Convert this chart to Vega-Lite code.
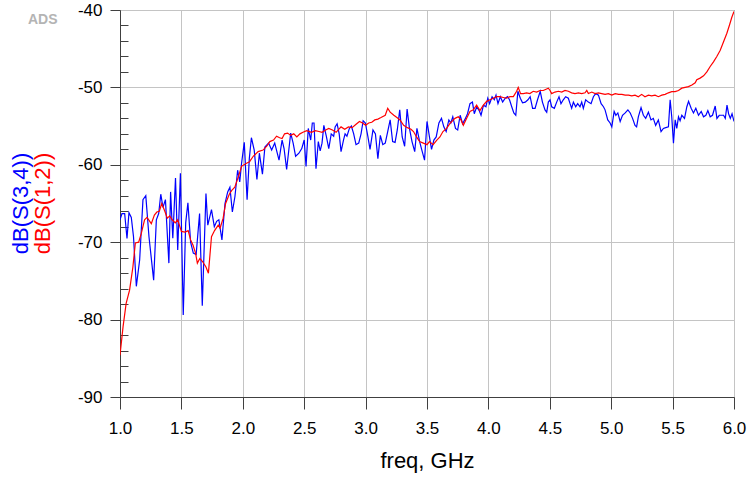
{
  "$schema": "https://vega.github.io/schema/vega-lite/v6.json",
  "autosize": "none",
  "width": 614,
  "height": 387,
  "padding": {"left": 120, "top": 10, "right": 15, "bottom": 85},
  "background": "white",
  "config": {
    "font": "Liberation Sans",
    "view": {"stroke": "#404040", "strokeWidth": 1}
  },
  "title": {
    "text": "ADS",
    "anchor": "start",
    "frame": "group",
    "orient": "top",
    "offset": 0,
    "dx": -92,
    "dy": 26,
    "fontSize": 14,
    "fontWeight": "bold",
    "color": "#b4b4b4",
    "font": "Liberation Sans"
  },
  "datasets": {
    "s34": [
      {"f":1.000,"v":-67.1},{"f":1.016,"v":-66.3},{"f":1.038,"v":-66.3},{"f":1.057,"v":-69.5},{"f":1.073,"v":-66.2},
      {"f":1.092,"v":-66.8},{"f":1.110,"v":-69.3},{"f":1.133,"v":-75.7},{"f":1.160,"v":-72.3},{"f":1.187,"v":-64.5},
      {"f":1.210,"v":-64.0},{"f":1.236,"v":-69.3},{"f":1.274,"v":-74.9},{"f":1.296,"v":-67.1},{"f":1.315,"v":-66.3},
      {"f":1.332,"v":-63.8},{"f":1.350,"v":-65.5},{"f":1.370,"v":-64.5},{"f":1.398,"v":-72.7},{"f":1.412,"v":-63.5},
      {"f":1.430,"v":-69.5},{"f":1.452,"v":-61.7},{"f":1.470,"v":-71.0},{"f":1.492,"v":-61.1},{"f":1.515,"v":-79.4},
      {"f":1.535,"v":-67.5},{"f":1.553,"v":-64.9},{"f":1.575,"v":-70.0},{"f":1.597,"v":-71.4},{"f":1.620,"v":-71.6},
      {"f":1.648,"v":-66.3},{"f":1.670,"v":-78.2},{"f":1.700,"v":-63.7},{"f":1.715,"v":-67.8},{"f":1.745,"v":-65.8},
      {"f":1.768,"v":-68.0},{"f":1.787,"v":-67.3},{"f":1.805,"v":-67.1},{"f":1.830,"v":-69.7},{"f":1.855,"v":-65.0},
      {"f":1.877,"v":-63.5},{"f":1.895,"v":-62.9},{"f":1.915,"v":-66.1},{"f":1.936,"v":-64.1},{"f":1.958,"v":-60.7},
      {"f":1.975,"v":-62.2},{"f":1.990,"v":-59.8},{"f":2.012,"v":-57.1},{"f":2.035,"v":-64.5},{"f":2.053,"v":-59.2},
      {"f":2.070,"v":-56.5},{"f":2.093,"v":-58.1},{"f":2.115,"v":-61.9},{"f":2.135,"v":-58.5},{"f":2.160,"v":-61.2},
      {"f":2.180,"v":-57.7},{"f":2.210,"v":-57.2},{"f":2.235,"v":-58.1},{"f":2.260,"v":-57.2},{"f":2.295,"v":-59.4},
      {"f":2.320,"v":-56.8},{"f":2.336,"v":-57.9},{"f":2.357,"v":-60.6},{"f":2.376,"v":-57.9},{"f":2.390,"v":-55.9},
      {"f":2.410,"v":-57.2},{"f":2.430,"v":-58.9},{"f":2.457,"v":-58.5},{"f":2.480,"v":-57.9},{"f":2.500,"v":-56.8},
      {"f":2.515,"v":-60.2},{"f":2.533,"v":-55.3},{"f":2.553,"v":-56.8},{"f":2.566,"v":-54.6},{"f":2.580,"v":-54.6},
      {"f":2.596,"v":-60.5},{"f":2.615,"v":-57.0},{"f":2.630,"v":-58.2},{"f":2.645,"v":-57.2},{"f":2.660,"v":-54.9},
      {"f":2.680,"v":-56.3},{"f":2.700,"v":-57.9},{"f":2.720,"v":-56.0},{"f":2.740,"v":-56.3},{"f":2.752,"v":-55.1},
      {"f":2.768,"v":-54.7},{"f":2.785,"v":-56.0},{"f":2.800,"v":-58.3},{"f":2.820,"v":-56.8},{"f":2.833,"v":-56.0},
      {"f":2.848,"v":-56.3},{"f":2.868,"v":-55.3},{"f":2.884,"v":-55.0},{"f":2.903,"v":-56.0},{"f":2.922,"v":-57.4},
      {"f":2.944,"v":-57.2},{"f":2.963,"v":-56.0},{"f":2.980,"v":-54.3},{"f":2.998,"v":-54.6},{"f":3.018,"v":-56.3},
      {"f":3.036,"v":-58.0},{"f":3.060,"v":-55.5},{"f":3.080,"v":-56.0},{"f":3.100,"v":-59.2},{"f":3.120,"v":-56.2},
      {"f":3.140,"v":-57.4},{"f":3.160,"v":-57.2},{"f":3.180,"v":-55.7},{"f":3.200,"v":-54.2},{"f":3.220,"v":-57.0},
      {"f":3.240,"v":-57.1},{"f":3.258,"v":-55.5},{"f":3.278,"v":-52.9},{"f":3.298,"v":-56.4},{"f":3.318,"v":-57.6},
      {"f":3.338,"v":-52.8},{"f":3.357,"v":-55.3},{"f":3.378,"v":-57.0},{"f":3.400,"v":-58.3},{"f":3.418,"v":-55.3},
      {"f":3.440,"v":-57.0},{"f":3.458,"v":-58.1},{"f":3.480,"v":-59.4},{"f":3.500,"v":-54.4},{"f":3.520,"v":-56.4},
      {"f":3.537,"v":-58.0},{"f":3.556,"v":-56.8},{"f":3.575,"v":-56.4},{"f":3.597,"v":-54.6},{"f":3.618,"v":-54.0},
      {"f":3.637,"v":-55.1},{"f":3.656,"v":-55.7},{"f":3.678,"v":-54.2},{"f":3.694,"v":-54.6},{"f":3.710,"v":-53.8},
      {"f":3.732,"v":-55.3},{"f":3.750,"v":-55.5},{"f":3.770,"v":-53.6},{"f":3.790,"v":-54.7},{"f":3.810,"v":-54.1},
      {"f":3.830,"v":-53.4},{"f":3.850,"v":-52.1},{"f":3.870,"v":-51.9},{"f":3.885,"v":-53.4},{"f":3.905,"v":-52.5},
      {"f":3.925,"v":-53.0},{"f":3.940,"v":-53.6},{"f":3.960,"v":-52.3},{"f":3.980,"v":-52.5},{"f":3.995,"v":-51.4},
      {"f":4.010,"v":-52.1},{"f":4.030,"v":-51.2},{"f":4.048,"v":-51.6},{"f":4.062,"v":-51.0},{"f":4.078,"v":-52.1},
      {"f":4.097,"v":-51.2},{"f":4.116,"v":-51.9},{"f":4.137,"v":-51.4},{"f":4.156,"v":-51.2},{"f":4.172,"v":-51.6},
      {"f":4.190,"v":-52.5},{"f":4.207,"v":-53.3},{"f":4.223,"v":-53.6},{"f":4.240,"v":-50.5},{"f":4.260,"v":-51.4},
      {"f":4.278,"v":-52.0},{"f":4.300,"v":-51.9},{"f":4.322,"v":-51.6},{"f":4.340,"v":-51.2},{"f":4.360,"v":-52.7},
      {"f":4.380,"v":-52.7},{"f":4.400,"v":-51.6},{"f":4.422,"v":-50.5},{"f":4.440,"v":-51.9},{"f":4.461,"v":-52.9},
      {"f":4.475,"v":-53.2},{"f":4.488,"v":-51.9},{"f":4.502,"v":-51.6},{"f":4.515,"v":-52.5},{"f":4.537,"v":-52.7},
      {"f":4.556,"v":-51.9},{"f":4.575,"v":-51.2},{"f":4.591,"v":-52.1},{"f":4.610,"v":-51.6},{"f":4.629,"v":-51.2},
      {"f":4.651,"v":-51.4},{"f":4.665,"v":-52.1},{"f":4.678,"v":-52.7},{"f":4.692,"v":-51.9},{"f":4.711,"v":-52.5},
      {"f":4.727,"v":-52.1},{"f":4.746,"v":-52.5},{"f":4.760,"v":-51.9},{"f":4.773,"v":-52.7},{"f":4.792,"v":-51.6},
      {"f":4.814,"v":-51.9},{"f":4.836,"v":-52.1},{"f":4.855,"v":-51.2},{"f":4.874,"v":-50.8},{"f":4.896,"v":-51.0},
      {"f":4.918,"v":-52.1},{"f":4.937,"v":-52.5},{"f":4.950,"v":-52.9},{"f":4.972,"v":-54.2},{"f":4.991,"v":-54.6},
      {"f":5.005,"v":-55.1},{"f":5.024,"v":-53.1},{"f":5.038,"v":-53.6},{"f":5.054,"v":-53.3},{"f":5.073,"v":-54.4},
      {"f":5.092,"v":-53.6},{"f":5.114,"v":-53.3},{"f":5.136,"v":-52.9},{"f":5.155,"v":-53.3},{"f":5.174,"v":-54.0},
      {"f":5.194,"v":-54.9},{"f":5.207,"v":-55.1},{"f":5.221,"v":-53.8},{"f":5.243,"v":-52.6},{"f":5.262,"v":-53.6},
      {"f":5.281,"v":-54.0},{"f":5.303,"v":-53.2},{"f":5.324,"v":-54.2},{"f":5.343,"v":-54.0},{"f":5.362,"v":-54.9},
      {"f":5.384,"v":-54.2},{"f":5.406,"v":-55.7},{"f":5.425,"v":-55.3},{"f":5.444,"v":-55.2},{"f":5.466,"v":-55.1},
      {"f":5.480,"v":-51.6},{"f":5.493,"v":-53.8},{"f":5.507,"v":-57.2},{"f":5.521,"v":-54.2},{"f":5.534,"v":-55.3},
      {"f":5.548,"v":-53.8},{"f":5.561,"v":-54.3},{"f":5.575,"v":-53.6},{"f":5.597,"v":-54.0},{"f":5.616,"v":-52.5},
      {"f":5.630,"v":-51.8},{"f":5.651,"v":-52.7},{"f":5.670,"v":-53.3},{"f":5.689,"v":-52.7},{"f":5.711,"v":-53.6},
      {"f":5.733,"v":-53.1},{"f":5.752,"v":-53.8},{"f":5.771,"v":-53.6},{"f":5.787,"v":-53.0},{"f":5.806,"v":-53.8},
      {"f":5.825,"v":-53.6},{"f":5.847,"v":-52.4},{"f":5.861,"v":-54.0},{"f":5.880,"v":-53.6},{"f":5.896,"v":-53.6},
      {"f":5.915,"v":-53.6},{"f":5.929,"v":-54.0},{"f":5.943,"v":-52.3},{"f":5.956,"v":-53.4},{"f":5.970,"v":-54.0},
      {"f":5.984,"v":-53.4},{"f":6.000,"v":-54.4}
    ],
    "s12": [
      {"f":1.000,"v":-84.6},{"f":1.025,"v":-80.9},{"f":1.050,"v":-77.9},{"f":1.078,"v":-76.2},{"f":1.105,"v":-73.2},
      {"f":1.125,"v":-70.1},{"f":1.152,"v":-70.0},{"f":1.173,"v":-68.9},{"f":1.200,"v":-67.1},{"f":1.220,"v":-66.8},
      {"f":1.255,"v":-67.6},{"f":1.280,"v":-66.5},{"f":1.300,"v":-66.1},{"f":1.320,"v":-66.0},{"f":1.340,"v":-65.0},
      {"f":1.365,"v":-66.0},{"f":1.385,"v":-66.9},{"f":1.405,"v":-66.6},{"f":1.425,"v":-67.1},{"f":1.450,"v":-67.5},
      {"f":1.470,"v":-67.1},{"f":1.500,"v":-68.6},{"f":1.530,"v":-68.7},{"f":1.555,"v":-68.5},{"f":1.575,"v":-69.7},
      {"f":1.595,"v":-70.4},{"f":1.615,"v":-71.4},{"f":1.630,"v":-72.7},{"f":1.650,"v":-72.1},{"f":1.672,"v":-72.5},
      {"f":1.700,"v":-73.2},{"f":1.720,"v":-74.0},{"f":1.745,"v":-69.3},{"f":1.770,"v":-68.5},{"f":1.800,"v":-67.8},
      {"f":1.815,"v":-68.2},{"f":1.840,"v":-66.9},{"f":1.860,"v":-65.0},{"f":1.890,"v":-63.8},{"f":1.910,"v":-63.3},
      {"f":1.935,"v":-62.9},{"f":1.965,"v":-61.5},{"f":1.990,"v":-60.2},{"f":2.030,"v":-59.8},{"f":2.055,"v":-59.6},
      {"f":2.085,"v":-58.9},{"f":2.125,"v":-58.3},{"f":2.165,"v":-58.1},{"f":2.195,"v":-57.6},{"f":2.220,"v":-57.0},
      {"f":2.250,"v":-56.8},{"f":2.275,"v":-56.3},{"f":2.300,"v":-56.5},{"f":2.320,"v":-56.6},{"f":2.340,"v":-56.0},
      {"f":2.365,"v":-55.9},{"f":2.390,"v":-56.2},{"f":2.415,"v":-56.0},{"f":2.440,"v":-56.4},{"f":2.465,"v":-56.0},
      {"f":2.490,"v":-55.8},{"f":2.520,"v":-55.6},{"f":2.560,"v":-55.8},{"f":2.590,"v":-55.6},{"f":2.620,"v":-55.7},
      {"f":2.645,"v":-55.8},{"f":2.675,"v":-55.5},{"f":2.700,"v":-55.3},{"f":2.730,"v":-55.5},{"f":2.760,"v":-55.8},
      {"f":2.800,"v":-55.1},{"f":2.830,"v":-55.4},{"f":2.860,"v":-55.1},{"f":2.890,"v":-55.2},{"f":2.920,"v":-54.8},
      {"f":2.950,"v":-54.4},{"f":2.975,"v":-54.6},{"f":3.000,"v":-54.9},{"f":3.025,"v":-54.6},{"f":3.050,"v":-54.5},
      {"f":3.075,"v":-54.2},{"f":3.100,"v":-54.1},{"f":3.125,"v":-53.9},{"f":3.160,"v":-53.6},{"f":3.180,"v":-52.7},
      {"f":3.200,"v":-53.2},{"f":3.230,"v":-53.6},{"f":3.255,"v":-53.9},{"f":3.280,"v":-54.2},{"f":3.310,"v":-54.9},
      {"f":3.340,"v":-55.2},{"f":3.370,"v":-55.4},{"f":3.390,"v":-55.7},{"f":3.415,"v":-56.4},{"f":3.440,"v":-57.0},
      {"f":3.470,"v":-57.2},{"f":3.500,"v":-57.4},{"f":3.520,"v":-57.0},{"f":3.550,"v":-57.4},{"f":3.580,"v":-56.8},
      {"f":3.605,"v":-56.4},{"f":3.630,"v":-55.7},{"f":3.660,"v":-55.3},{"f":3.690,"v":-54.6},{"f":3.715,"v":-54.2},
      {"f":3.728,"v":-54.0},{"f":3.755,"v":-53.8},{"f":3.777,"v":-54.2},{"f":3.796,"v":-54.9},{"f":3.823,"v":-54.0},
      {"f":3.850,"v":-53.1},{"f":3.877,"v":-52.9},{"f":3.904,"v":-52.3},{"f":3.931,"v":-53.0},{"f":3.959,"v":-52.3},
      {"f":3.986,"v":-51.8},{"f":4.013,"v":-51.6},{"f":4.040,"v":-51.4},{"f":4.067,"v":-51.2},{"f":4.094,"v":-51.2},
      {"f":4.121,"v":-51.3},{"f":4.148,"v":-51.4},{"f":4.175,"v":-51.2},{"f":4.203,"v":-51.2},{"f":4.230,"v":-50.5},
      {"f":4.243,"v":-50.0},{"f":4.262,"v":-50.8},{"f":4.284,"v":-50.8},{"f":4.311,"v":-50.7},{"f":4.338,"v":-50.8},
      {"f":4.365,"v":-50.5},{"f":4.393,"v":-50.6},{"f":4.420,"v":-50.4},{"f":4.447,"v":-50.4},{"f":4.474,"v":-50.2},
      {"f":4.488,"v":-50.1},{"f":4.502,"v":-50.4},{"f":4.515,"v":-50.8},{"f":4.542,"v":-50.6},{"f":4.570,"v":-50.5},
      {"f":4.597,"v":-50.6},{"f":4.624,"v":-50.4},{"f":4.651,"v":-50.5},{"f":4.678,"v":-50.7},{"f":4.705,"v":-50.8},
      {"f":4.733,"v":-50.7},{"f":4.760,"v":-50.8},{"f":4.787,"v":-50.7},{"f":4.801,"v":-50.4},{"f":4.814,"v":-50.8},
      {"f":4.842,"v":-50.6},{"f":4.869,"v":-50.8},{"f":4.896,"v":-50.7},{"f":4.923,"v":-50.8},{"f":4.950,"v":-50.9},
      {"f":4.977,"v":-50.8},{"f":5.005,"v":-51.0},{"f":5.033,"v":-50.8},{"f":5.060,"v":-50.9},{"f":5.087,"v":-50.9},
      {"f":5.114,"v":-51.0},{"f":5.141,"v":-51.0},{"f":5.168,"v":-51.1},{"f":5.194,"v":-51.0},{"f":5.221,"v":-51.2},
      {"f":5.248,"v":-50.9},{"f":5.275,"v":-51.2},{"f":5.303,"v":-51.0},{"f":5.330,"v":-51.1},{"f":5.357,"v":-51.0},
      {"f":5.384,"v":-51.2},{"f":5.412,"v":-51.0},{"f":5.439,"v":-50.9},{"f":5.466,"v":-50.7},{"f":5.493,"v":-50.55},
      {"f":5.521,"v":-50.55},{"f":5.548,"v":-50.4},{"f":5.575,"v":-50.1},{"f":5.602,"v":-50.0},{"f":5.629,"v":-49.9},
      {"f":5.657,"v":-49.7},{"f":5.684,"v":-49.4},{"f":5.697,"v":-49.0},{"f":5.724,"v":-48.8},{"f":5.752,"v":-48.5},
      {"f":5.779,"v":-48.0},{"f":5.806,"v":-47.3},{"f":5.833,"v":-46.7},{"f":5.860,"v":-46.0},{"f":5.888,"v":-45.2},
      {"f":5.915,"v":-44.1},{"f":5.942,"v":-43.0},{"f":5.964,"v":-41.9},{"f":5.983,"v":-40.9},{"f":6.000,"v":-40.2}
    ]
  },
  "layer": [
    {
      "data": {"name": "s34"},
      "mark": {"type": "line", "color": "#0000ff", "strokeWidth": 1.2, "clip": true},
      "encoding": {
        "x": {
          "field": "f", "type": "quantitative",
          "scale": {"domain": [1, 6], "nice": false, "zero": false},
          "axis": {
            "values": [1, 1.5, 2, 2.5, 3, 3.5, 4, 4.5, 5, 5.5, 6],
            "format": ".1f",
            "labelFlush": false,
            "labelOverlap": false,
            "title": "freq, GHz",
            "grid": true, "gridColor": "#c4c4c4", "gridWidth": 1,
            "domainColor": "#404040", "tickColor": "#404040",
            "tickSize": 12,
            "labelFontSize": 17, "labelColor": "#000000", "labelPadding": 11,
            "labelFont": "Liberation Sans",
            "titleFont": "Liberation Sans", "titleFontSize": 22, "titleFontWeight": "normal",
            "titleColor": "#000000", "titlePadding": 14
          }
        },
        "y": {
          "field": "v", "type": "quantitative",
          "scale": {"domain": [-90, -40], "nice": false, "zero": false},
          "axis": {
            "orient": "left",
            "values": [-90, -80, -70, -60, -50, -40],
            "labelExpr": "replace(datum.label, '−', '-')",
            "labelFlush": false,
            "title": "dB(S(3,4))",
            "titleColor": "#0000ff",
            "titleFont": "Liberation Sans", "titleFontSize": 22, "titleFontWeight": "normal",
            "titleX": -100, "titleY": 193, "titleAngle": -90, "titleBaseline": "middle", "titleAlign": "center",
            "grid": true, "gridColor": "#c4c4c4", "gridWidth": 1,
            "domainColor": "#404040", "tickColor": "#404040",
            "tickSize": 10,
            "labelFontSize": 17, "labelColor": "#000000", "labelPadding": 8,
            "labelFont": "Liberation Sans"
          }
        }
      }
    },
    {
      "data": {"name": "s12"},
      "mark": {"type": "line", "color": "#ff0000", "strokeWidth": 1.2, "clip": true},
      "encoding": {
        "x": {"field": "f", "type": "quantitative"},
        "y": {
          "field": "v", "type": "quantitative",
          "axis": {
            "orient": "left",
            "values": [-88, -86, -84, -82, -78, -76, -74, -72, -68, -66, -64, -62, -58, -56, -54, -52, -48, -46, -44, -42],
            "labels": false,
            "grid": false,
            "domain": false,
            "tickColor": "#404040",
            "tickSize": -8,
            "title": "dB(S(1,2))",
            "titleColor": "#ff0000",
            "titleFont": "Liberation Sans", "titleFontSize": 22, "titleFontWeight": "normal",
            "titleX": -78, "titleY": 193, "titleAngle": -90, "titleBaseline": "middle", "titleAlign": "center"
          }
        }
      }
    }
  ],
  "resolve": {"axis": {"y": "independent"}}
}
